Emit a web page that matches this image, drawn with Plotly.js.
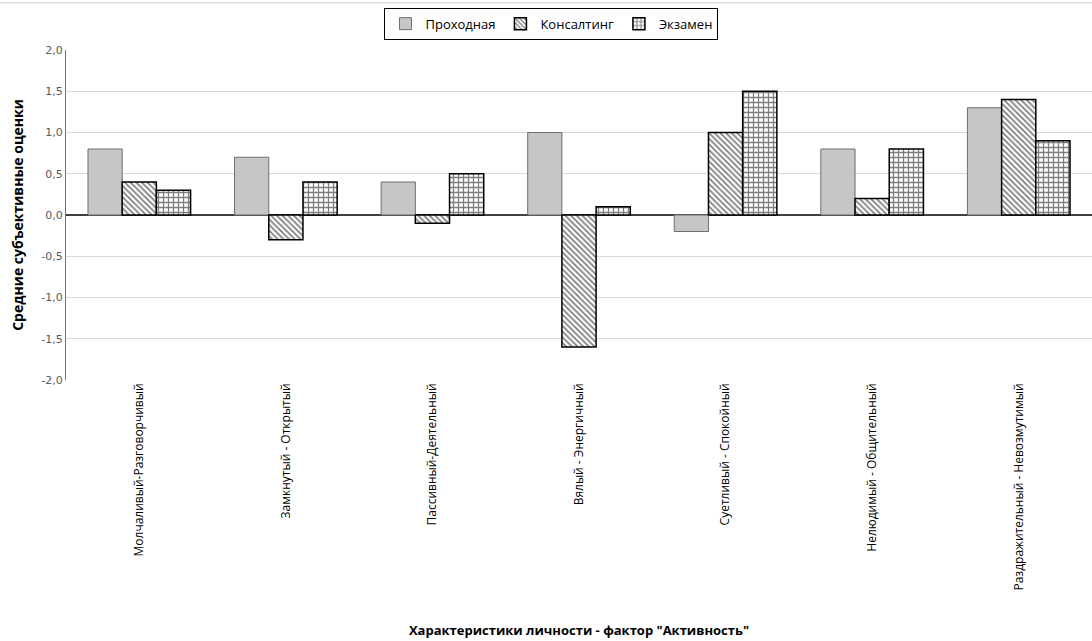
<!DOCTYPE html>
<html>
<head>
<meta charset="utf-8">
<script src="https://cdn.plot.ly/plotly-3.0.1.min.js"></script>
<style>html,body{margin:0;padding:0;background:#fff;}#chart{width:1092px;height:641px;}</style>
</head>
<body>
<div id="chart"></div>
<script>
const categories = [
  "Молчаливый-Разговорчивый",
  "Замкнутый - Открытый",
  "Пассивный-Деятельный",
  "Вялый - Энергичный",
  "Суетливый - Спокойный",
  "Нелюдимый - Общительный",
  "Раздражительный - Невозмутимый"
];
const seriesNames = ["Проходная", "Консалтинг", "Экзамен"];
const prohodnaya = [0.8, 0.7, 0.4, 1.0, -0.2, 0.8, 1.3];
const konsalting = [0.4, -0.3, -0.1, -1.6, 1.0, 0.2, 1.4];
const ekzamen = [0.3, 0.4, 0.5, 0.1, 1.5, 0.8, 0.9];
const yTicks = [-2, -1.5, -1, -0.5, 0, 0.5, 1, 1.5, 2];
const yTickText = yTicks.map(v => v.toFixed(1).replace(".", ","));

const font = "Open Sans, DejaVu Sans, sans-serif";

const traces = [
  {
    type: "bar", name: seriesNames[0], x: categories, y: prohodnaya,
    marker: {color: "#c6c6c6", line: {color: "#6e6e6e", width: 1}}
  },
  {
    type: "bar", name: seriesNames[1], x: categories, y: konsalting,
    marker: {color: "#ffffff", line: {color: "#000000", width: 1.5},
      pattern: {shape: "\\", fgcolor: "#000000", bgcolor: "#ffffff", size: 4, solidity: 0.45, fillmode: "overlay"}}
  },
  {
    type: "bar", name: seriesNames[2], x: categories, y: ekzamen,
    marker: {color: "#ffffff", line: {color: "#000000", width: 1.5},
      pattern: {shape: "+", fgcolor: "#000000", bgcolor: "#ffffff", size: 5, solidity: 0.45, fillmode: "overlay"}}
  }
];

const layout = {
  width: 1092, height: 641,
  margin: {l: 66, r: 0, t: 50, b: 261},
  paper_bgcolor: "#ffffff", plot_bgcolor: "#ffffff",
  barmode: "group", bargap: 0.3, bargroupgap: 0,
  font: {family: font, size: 12, color: "#000"},
  showlegend: true,
  legend: {
    orientation: "h", xref: "container", yref: "container",
    x: 0.505, xanchor: "center", y: 0.988, yanchor: "top",
    bordercolor: "#000000", borderwidth: 1, bgcolor: "#ffffff",
    font: {family: font, size: 13, color: "#000"},
    itemwidth: 30, tracegroupgap: 0
  },
  xaxis: {
    type: "category", tickangle: -90, showgrid: false, showline: false, ticks: "",
    tickfont: {family: font, size: 12, color: "#000"},
    title: {text: "<b>Характеристики личности - фактор \"Активность\"</b>", font: {family: font, size: 13, color: "#000"}, standoff: 36},
    automargin: false
  },
  yaxis: {
    range: [-2, 2], tickmode: "array", tickvals: yTicks, ticktext: yTickText,
    showgrid: true, gridcolor: "#d9d9d9", gridwidth: 1,
    showline: true, linecolor: "#707070", linewidth: 1,
    zeroline: true, zerolinecolor: "#404040", zerolinewidth: 1.5,
    ticks: "", ticklen: 0,
    tickfont: {family: "DejaVu Sans, sans-serif", size: 11, color: "#595959"},
    title: {text: "<b>Средние субъективные оценки</b>", font: {family: font, size: 14, color: "#000"}, standoff: 14},
    automargin: false
  },
  shapes: [
    {type: "line", xref: "paper", yref: "paper", x0: -0.07, x1: 1, y0: 1.143, y1: 1.143, line: {color: "#d0d0d0", width: 1}}
  ]
};

Plotly.newPlot("chart", traces, layout, {displayModeBar: false, staticPlot: true});
</script>
</body>
</html>
